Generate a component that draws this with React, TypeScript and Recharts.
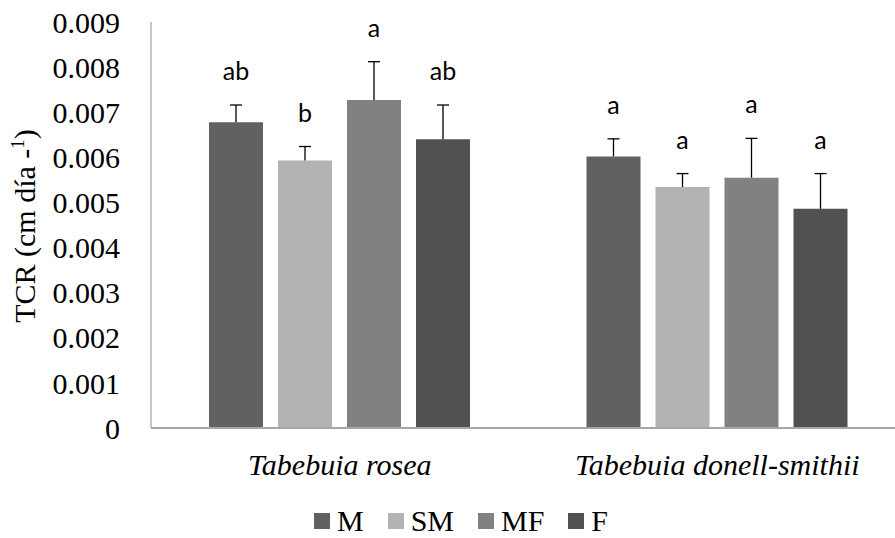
import { Bar, BarChart, LabelList, Legend, XAxis, YAxis } from 'recharts';

const species = ['Tabebuia rosea', 'Tabebuia donell-smithii'];
const treatments = ['M', 'SM', 'MF', 'F'];
const colors = ['#616161', '#b3b3b3', '#818181', '#515151'];

// mean TCR per species, one array per treatment
const meanM = [0.00678, 0.00602];
const meanSM = [0.00593, 0.00534];
const meanMF = [0.00727, 0.00555];
const meanF = [0.0064, 0.00486];

// upper error (standard error)
const errM = [0.00038, 0.00039];
const errSM = [0.00031, 0.0003];
const errMF = [0.00085, 0.00087];
const errF = [0.00076, 0.00078];

// Tukey letters
const lettersM = ['ab', 'a'];
const lettersSM = ['b', 'a'];
const lettersMF = ['a', 'a'];
const lettersF = ['ab', 'a'];

const yTicks = [0, 0.001, 0.002, 0.003, 0.004, 0.005, 0.006, 0.007, 0.008, 0.009];

const means = [meanM, meanSM, meanMF, meanF];
const errs = [errM, errSM, errMF, errF];
const letters = [lettersM, lettersSM, lettersMF, lettersF];

const data = species.map((name, i) => {
  const row: Record<string, any> = { name };
  treatments.forEach((t, j) => {
    row[t] = means[j][i];
    row[`${t}_err`] = errs[j][i];
    row[`${t}_lbl`] = letters[j][i];
  });
  return row;
});

const SERIF =
  '"Times New Roman", Times, "Liberation Serif", LiberationSerif, "DejaVu Serif", "Noto Serif", FreeSerif, serif';

// upper-only error bar plus the significance letter, scaled from the bar itself
const errorAndLetter = (key: string) => (props: any) => {
  const { x, y, width, height, index } = props;
  const row = data[index];
  const v = row[key];
  const e = row[`${key}_err`];
  const top = Number(y);
  const cx = Number(x) + Number(width) / 2;
  const errTop = top - (e * Number(height)) / v;
  return (
    <g>
      <line x1={cx} y1={top} x2={cx} y2={errTop} stroke="#000" strokeWidth={1.3} />
      <line x1={cx - 6} y1={errTop} x2={cx + 6} y2={errTop} stroke="#000" strokeWidth={1.3} />
      <text
        x={cx}
        y={errTop - 25}
        textAnchor="middle"
        style={{ fontFamily: 'Lato, sans-serif', fontSize: 25 }}
        fill="#000"
      >
        {row[`${key}_lbl`]}
      </text>
    </g>
  );
};

const YLabel = () => (
  <text
    x={35}
    y={226}
    transform="rotate(-90, 35, 226)"
    textAnchor="middle"
    style={{ fontFamily: SERIF, fontSize: 30 }}
    fill="#000"
  >
    TCR (cm día -
    <tspan style={{ fontSize: 19 }} dy={-11}>1</tspan>
    <tspan dy={11}>)</tspan>
  </text>
);

const renderLegend = () => (
  <div
    style={{
      display: 'flex',
      justifyContent: 'center',
      alignItems: 'center',
      fontFamily: SERIF,
      fontSize: 30,
      lineHeight: '32px',
      height: 32,
      color: '#000',
    }}
  >
    {treatments.map((t, i) => (
      <span
        key={t}
        style={{ display: 'flex', alignItems: 'center', marginRight: i < treatments.length - 1 ? 24 : 0 }}
      >
        <span style={{ display: 'inline-block', width: 16, height: 16, background: colors[i], marginRight: 7 }} />
        {t}
      </span>
    ))}
  </div>
);

export default function App() {
  return (
    <div
      style={{
        position: 'absolute',
        left: 0,
        top: 0,
        width: 895,
        height: 538,
        overflow: 'hidden',
        background: '#fff',
      }}
    >
      <BarChart
        width={910}
        height={538}
        data={data}
        margin={{ top: 22, right: 4, left: 0, bottom: 18 }}
        barCategoryGap={58}
        barGap={15}
      >
        <XAxis
          dataKey="name"
          height={60}
          tickLine={false}
          tickSize={0}
          tickMargin={26}
          axisLine={{ stroke: '#a6a6a6', strokeWidth: 2 }}
          tick={{ fill: '#000', style: { fontSize: 30, fontFamily: SERIF, fontStyle: 'italic' } }}
        />
        <YAxis
          width={151}
          domain={[0, 0.009]}
          ticks={yTicks}
          interval={0}
          tickLine={false}
          tickSize={0}
          tickMargin={31}
          axisLine={{ stroke: '#a6a6a6', strokeWidth: 1.3 }}
          tick={{ fill: '#000', style: { fontSize: 30, fontFamily: SERIF } }}
          tickFormatter={(v: number) => (v === 0 ? '0' : v.toFixed(3))}
          label={{ content: () => <YLabel /> }}
        />
        <Legend
          verticalAlign="bottom"
          content={renderLegend}
          wrapperStyle={{ left: 0, top: 505, width: 922, height: 32 }}
        />
        {treatments.map((t, i) => (
          <Bar key={t} dataKey={t} name={t} fill={colors[i]} isAnimationActive={false}>
            <LabelList dataKey={`${t}_lbl`} content={errorAndLetter(t)} />
          </Bar>
        ))}
      </BarChart>
    </div>
  );
}
